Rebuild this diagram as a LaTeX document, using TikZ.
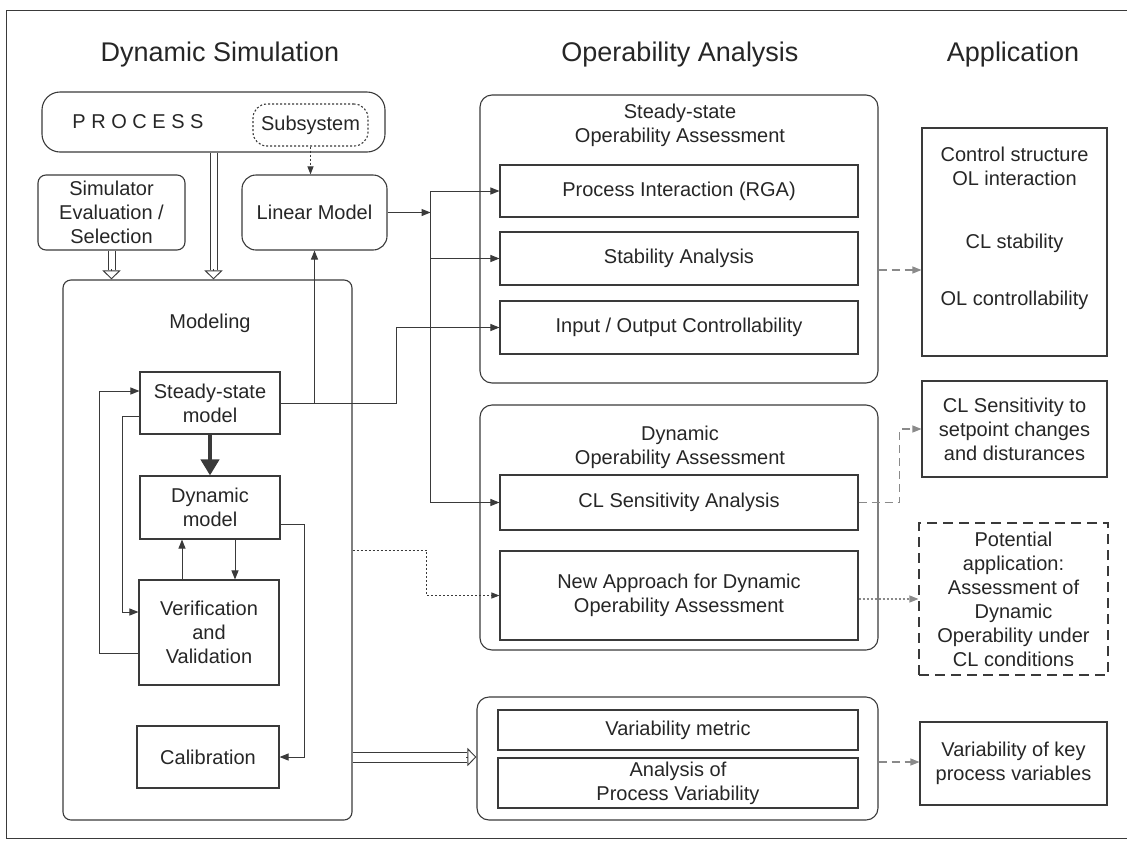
\documentclass[tikz,border=0pt]{standalone}
\usepackage{fontspec}
\setmainfont{Liberation Sans}
\usetikzlibrary{arrows.meta,calc}
\definecolor{lc}{HTML}{3A3A3A}
\definecolor{gc}{HTML}{8A8A8A}
\begin{document}
\begin{tikzpicture}[x=1pt,y=-1pt,
  every node/.style={font=\fontsize{20}{24}\selectfont, align=center, inner sep=0pt, text=black!85},
  head/.style={font=\fontsize{27}{32}\selectfont},
  sz/.style 2 args={minimum width=#1, minimum height=#2},
  sbox/.style={draw=lc, line width=1.1pt, rectangle},
  rbox/.style={draw=lc, line width=1.1pt, rectangle, rounded corners=#1},
  rbox/.default=10pt,
  arr/.style={draw=lc, line width=1pt, -{Triangle[length=9pt,width=7pt]}},
  ln/.style={draw=lc, line width=0.9pt},
  hollowtip/.style={draw=lc, line width=0.9pt, -{Triangle[open, length=9pt, width=18pt]}},
  garr/.style={draw=gc, line width=1.1pt, dash pattern=on 8pt off 5pt, -{Triangle[length=9pt,width=7pt]}},
  gdot/.style={draw=gc, line width=1.1pt, dash pattern=on 2pt off 2pt, -{Triangle[length=9pt,width=7pt]}},
  ldot/.style={draw=lc, line width=1pt, dash pattern=on 2pt off 2pt, -{Triangle[length=8pt,width=6pt]}}
]
\useasboundingbox (0,0) rectangle (1127,844);
% frame
\draw[lc, line width=1pt] (1127,10) -- (6,10) -- (6,838) -- (1127,838);

% headings
\node[head] (h1) at (220,55) {Dynamic Simulation};
\node[head] (h2) at (680,55) {Operability Analysis};
\node[head] (h3) at (1013,55) {Application};

% left column
\node[rbox=18pt, sz={343}{60}] (process) at (213.5,122) {};
\node (proctext) at (138,122) {P R O C E S S};
\node[draw=lc, line width=1.1pt, dash pattern=on 2pt off 2pt, rounded corners=14pt, sz={115}{42}] (subsys) at (310.5,125) {Subsystem};
\node[rbox=8pt, sz={147}{75}] (sim) at (111.5,212.5) {Simulator\\Evaluation /\\Selection};
\node[rbox=14pt, sz={145}{75}] (linear) at (314.5,212.5) {Linear Model};
\node[rbox=8pt, sz={289}{540}] (modeling) at (207.5,550) {};
\node (modtext) at (210,323) {Modeling};
\node[sbox, sz={140}{62}] (ssm) at (210,403) {Steady-state\\model};
\node[sbox, sz={140}{63}] (dyn) at (210,507.5) {Dynamic\\model};
\node[sbox, sz={140}{105}] (ver) at (209,632.5) {Verification\\and\\Validation};
\node[sbox, sz={142}{62}] (cal) at (208,757) {Calibration};

% middle column
\node[rbox=12pt, sz={398}{288}] (ssop) at (679,239) {};
\node (ssoptext) at (680,125) {Steady-state\\Operability Assessment};
\node[sbox, sz={358}{52}] (pi) at (679,191) {Process Interaction (RGA)};
\node[sbox, sz={358}{53}] (sa) at (679,258.5) {Stability Analysis};
\node[sbox, sz={358}{53}] (io) at (679,327.5) {Input / Output Controllability};

\node[rbox=12pt, sz={398}{245}] (dynop) at (679,527.5) {};
\node (dynoptext) at (680,447) {Dynamic\\Operability Assessment};
\node[sbox, sz={358}{55}] (cls) at (679,502.5) {CL Sensitivity Analysis};
\node[sbox, sz={358}{89}] (na) at (679,595.5) {New Approach for Dynamic\\Operability Assessment};

\node[rbox=12pt, sz={401}{123}] (varop) at (677.5,758.5) {};
\node[sbox, sz={360}{40}] (vm) at (678,730) {Variability metric};
\node[sbox, sz={360}{50}] (apv) at (678,783) {Analysis of\\Process Variability};

% right column
\node[sbox, sz={185}{228}] (ctrl) at (1014.5,242) {};
\node (ctrlt1) at (1014.5,166) {Control structure\\OL interaction};
\node (ctrlt2) at (1014.5,243) {CL stability};
\node (ctrlt3) at (1014.5,300) {OL controllability};
\node[sbox, sz={185}{96}] (clsens) at (1014.5,429) {CL Sensitivity to\\setpoint changes\\and disturances};
\node[draw=lc, line width=1.1pt, dash pattern=on 10pt off 6pt, sz={189}{152}] (pot) at (1013.5,599) {Potential\\application:\\Assessment of\\Dynamic\\Operability under\\CL conditions};
\node[sbox, sz={187}{83}] (varkey) at (1013.5,763.5) {Variability of key\\process variables};

% double (hollow) arrows
\coordinate (d1s) at (sim.south);
\coordinate (d1e) at (sim.south |- modeling.north);
\draw[ln] ($(d1s)+(-3.5,0)$) -- ($(d1e)+(-3.5,-9)$);
\draw[ln] ($(d1s)+(3.5,0)$) -- ($(d1e)+(3.5,-9)$);
\draw[hollowtip] ($(d1e)+(0,-10)$) -- (d1e);

\coordinate (d2s) at (process.south);
\coordinate (d2e) at (process.south |- modeling.north);
\draw[ln] ($(d2s)+(-3.5,0)$) -- ($(d2e)+(-3.5,-9)$);
\draw[ln] ($(d2s)+(3.5,0)$) -- ($(d2e)+(3.5,-9)$);
\draw[hollowtip] ($(d2e)+(0,-10)$) -- (d2e);

\coordinate (d3s) at (modeling.east |- cal.east);
\coordinate (d3e) at (varop.west |- cal.east);
\draw[ln] ($(d3s)+(0,-5)$) -- ($(d3e)+(-9,-5)$);
\draw[ln] ($(d3s)+(0,5)$) -- ($(d3e)+(-9,5)$);
\draw[hollowtip] ($(d3e)+(-10,0)$) -- (d3e);

% connectors, left
\draw[ldot] (subsys.south) -- (subsys.south |- linear.north);
\draw[draw=lc, line width=4pt, -{Triangle[length=16pt,width=18pt]}] (ssm.south) -- (dyn.north);
\coordinate (a1) at ($(dyn.south)+(25,0)$);
\draw[arr] (a1) -- (a1 |- ver.north);
\coordinate (a2) at ($(ver.north)+(-27,0)$);
\draw[arr] (a2) -- (a2 |- dyn.south);
\draw[arr] ($(ssm.west)+(0,13)$) -- ++(-17,0) |- ($(ver.west)+(0,-20.5)$);
\draw[arr] ($(ver.west)+(0,20.5)$) -- ++(-39,0) |- ($(ssm.west)+(0,-12)$);
\draw[arr] ($(dyn.east)+(0,16.5)$) -- ++(24,0) |- (cal.east);

% connectors to middle
\draw[arr] (ssm.east) -- ++(116,0) |- (io.west);
\draw[arr] (linear.south |- ssm.east) -- (linear.south);
\coordinate (j) at ($(linear.east)+(43,0)$);
\draw[arr] (linear.east) -- (j);
\draw[ln] (j |- pi.west) -- (j |- cls.west);
\draw[arr] (j |- pi.west) -- (pi.west);
\draw[arr] (j |- sa.west) -- (sa.west);
\draw[arr] (j |- cls.west) -- (cls.west);
\draw[ldot] (modeling.east) -- ++(74,0) |- (na.west);

% connectors to right
\coordinate (g1) at ($(ssop.east)+(0,31)$);
\draw[garr] (g1) -- (g1 -| ctrl.west);
\draw[garr] (cls.east) -- ++(41,0) |- (clsens.west);
\coordinate (g2) at ($(na.east)+(0,3.5)$);
\draw[gdot] (g2) -- (g2 -| pot.west);
\coordinate (g3) at ($(varop.east)+(0,3.5)$);
\draw[garr] (g3) -- (g3 -| varkey.west);
\end{tikzpicture}
\end{document}
